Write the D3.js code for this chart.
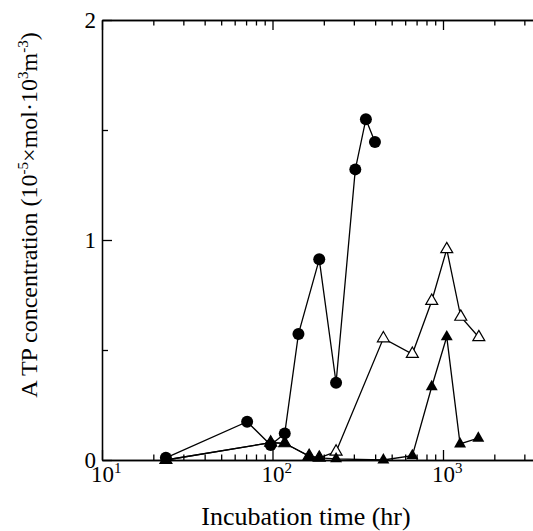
<!DOCTYPE html>
<html>
<head>
<meta charset="utf-8">
<script src="https://cdn.jsdelivr.net/npm/d3@7"></script>
<style>
  body { margin: 0; background: #fff; }
  svg { display: block; }
  svg text { font-family: "Liberation Serif", "Times New Roman", Times, serif; fill: #000; }
</style>
</head>
<body>
<svg id="canvas" width="533" height="531"></svg>
<script>
// filled circles
const hoursA = [23.7, 71, 97.6, 118, 142, 188, 236, 306, 353, 399];
const atpA = [0.01, 0.174, 0.068, 0.121, 0.573, 0.912, 0.351, 1.321, 1.549, 1.445];
// filled triangles
const hoursB = [23.7, 97.6, 118, 164, 188, 236, 447, 661, 859, 1052, 1259, 1611];
const atpB = [0.0, 0.079, 0.076, 0.018, 0.01, 0.005, 0.0, 0.02, 0.333, 0.56, 0.073, 0.099];
// open triangles
const hoursC = [23.7, 97.6, 118, 164, 188, 236, 447, 661, 859, 1052, 1271, 1622];
const atpC = [0.0, 0.079, 0.076, 0.018, 0.01, 0.038, 0.553, 0.482, 0.723, 0.958, 0.651, 0.558];

const xMajor = [10, 100, 1000];
const xMinor = [20, 30, 40, 50, 60, 70, 80, 90, 200, 300, 400, 500, 600, 700, 800, 900, 2000, 3000];
const yMajor = [0, 1, 2];
const yMinor = [0.5, 1.5];

const svg = d3.select("#canvas");
const plotLeft = 102, plotTop = 20, plotBottom = 460;
const serif = "Liberation Serif, Times New Roman, serif";

const x = d3.scaleLog().domain([10, 3500]).range([plotLeft, plotLeft + 170.5 * Math.log10(350)]);
const y = d3.scaleLinear().domain([0, 2]).range([plotBottom, plotTop]);

function styleAxis(g) {
  g.selectAll("path, line").attr("stroke", "#000").attr("stroke-width", 1.3);
  g.selectAll("text").remove();
}

// bottom axis
svg.append("g").attr("transform", `translate(0,${plotBottom})`)
  .call(d3.axisBottom(x).tickValues(xMajor).tickSize(-10).tickSizeOuter(0))
  .call(styleAxis);
svg.append("g").attr("transform", `translate(0,${plotBottom})`)
  .call(d3.axisBottom(x).tickValues(xMinor).tickSize(-5.5).tickSizeOuter(0))
  .call(styleAxis);
// top axis
svg.append("g").attr("transform", `translate(0,${plotTop})`)
  .call(d3.axisTop(x).tickValues(xMajor).tickSize(-10).tickSizeOuter(0))
  .call(styleAxis);
svg.append("g").attr("transform", `translate(0,${plotTop})`)
  .call(d3.axisTop(x).tickValues(xMinor).tickSize(-5.5).tickSizeOuter(0))
  .call(styleAxis);
// left axis
svg.append("g").attr("transform", `translate(${plotLeft},0)`)
  .call(d3.axisLeft(y).tickValues(yMinor).tickSize(-6).tickSizeOuter(0))
  .call(styleAxis);
const yAxis = svg.append("g").attr("transform", `translate(${plotLeft},0)`)
  .call(d3.axisLeft(y).tickValues(yMajor).tickFormat(d3.format("d"))
    .tickSize(-10).tickSizeOuter(0).tickPadding(6));
yAxis.attr("font-family", serif).attr("font-size", 23);
yAxis.selectAll("path, line").attr("stroke", "#000").attr("stroke-width", 1.3);
yAxis.selectAll("text").attr("fill", "#000");

// x tick labels 10^n
const xl = svg.append("g").attr("font-family", serif).selectAll("text").data(xMajor).join("text")
  .attr("x", (d) => x(d))
  .attr("y", 482)
  .attr("font-size", 23)
  .attr("text-anchor", "start");
xl.append("tspan").attr("dx", -11).text("10");
xl.append("tspan").attr("dy", -9).attr("font-size", 15).text((d) => Math.round(Math.log10(d)));

// lines and markers
const line = d3.line().x((d) => x(d[0])).y((d) => y(d[1]));
const seriesA = hoursA.map((h, i) => [h, atpA[i]]);
const seriesB = hoursB.map((h, i) => [h, atpB[i]]);
const seriesC = hoursC.map((h, i) => [h, atpC[i]]);

const plot = svg.append("g");
[seriesC, seriesB, seriesA].forEach((s) => {
  plot.append("path").datum(s).attr("d", line)
    .attr("fill", "none").attr("stroke", "#000").attr("stroke-width", 1.3);
});

const tri = d3.symbol().type(d3.symbolTriangle).size(62);
plot.selectAll(".open").data(seriesC).join("path").attr("class", "open")
  .attr("d", tri)
  .attr("transform", (d) => `translate(${x(d[0])},${y(d[1])})`)
  .attr("fill", "#fff").attr("stroke", "#000").attr("stroke-width", 1.2);
plot.selectAll(".filled").data(seriesB).join("path").attr("class", "filled")
  .attr("d", tri)
  .attr("transform", (d) => `translate(${x(d[0])},${y(d[1])})`)
  .attr("fill", "#000");
plot.selectAll("circle").data(seriesA).join("circle")
  .attr("cx", (d) => x(d[0])).attr("cy", (d) => y(d[1])).attr("r", 6)
  .attr("fill", "#000");

// axis titles
svg.append("text")
  .attr("x", 306).attr("y", 525)
  .attr("font-family", serif)
  .attr("text-anchor", "middle").attr("font-size", 26)
  .text("Incubation time (hr)");

const yt = svg.append("text")
  .attr("transform", "translate(37,215) rotate(-90)")
  .attr("font-family", serif)
  .attr("text-anchor", "middle").attr("font-size", 24);
yt.append("tspan").text("A TP concentration (10");
yt.append("tspan").attr("dy", -9).attr("font-size", 15).text("-5");
yt.append("tspan").attr("dy", 9).text("×mol·10");
yt.append("tspan").attr("dy", -9).attr("font-size", 15).text("3");
yt.append("tspan").attr("dy", 9).text("m");
yt.append("tspan").attr("dy", -9).attr("font-size", 15).text("-3");
yt.append("tspan").attr("dy", 9).text(")");
</script>
</body>
</html>
